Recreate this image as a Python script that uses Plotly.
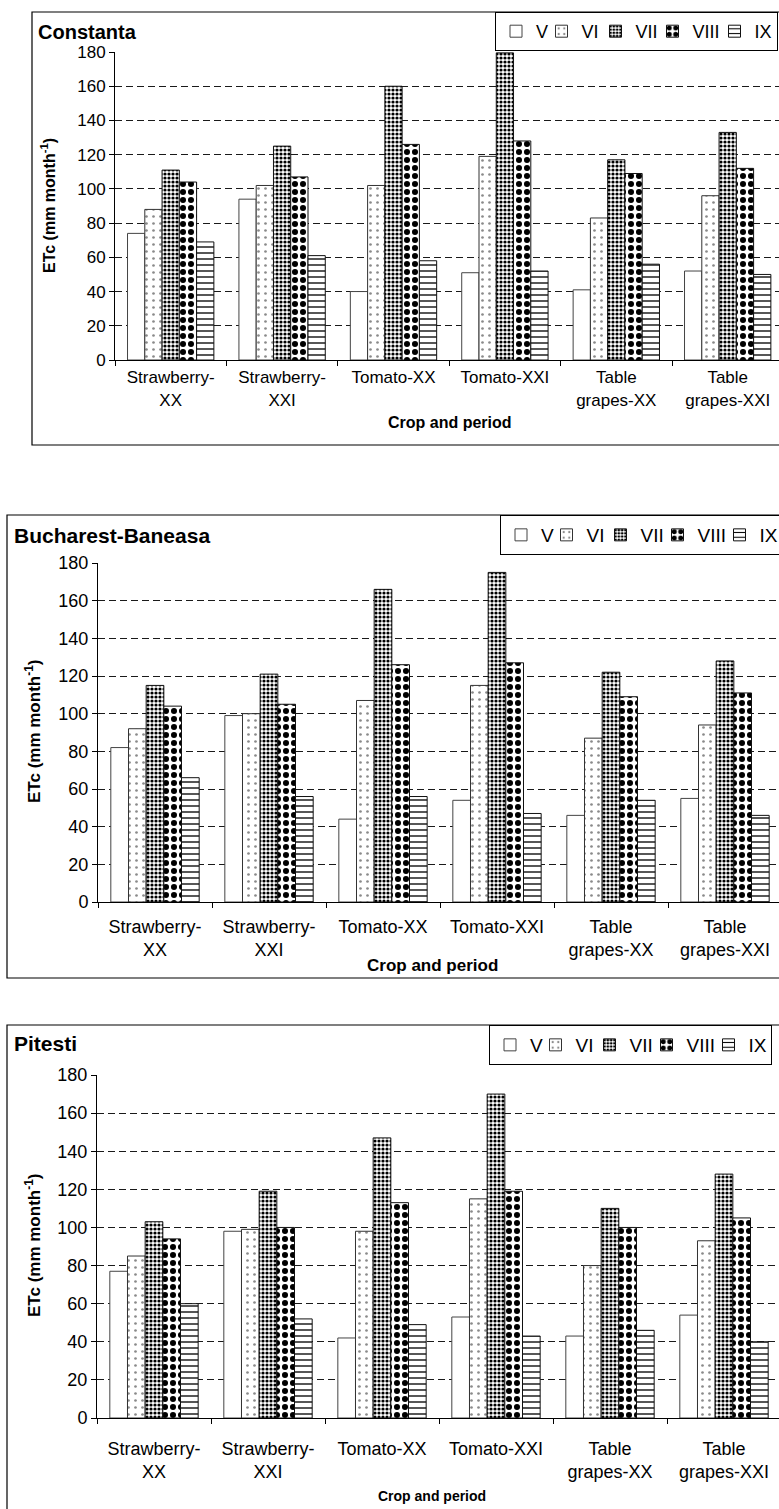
import plotly.graph_objects as go

W, H = 779, 1509
FONT = "Liberation Sans, Arial, sans-serif"

# ---------------- data ----------------
crops = ["Strawberry-XX", "Strawberry-XXI", "Tomato-XX", "Tomato-XXI",
         "Table grapes-XX", "Table grapes-XXI"]
crop_ticks = ["Strawberry-<br>XX", "Strawberry-<br>XXI", "Tomato-XX", "Tomato-XXI",
              "Table<br>grapes-XX", "Table<br>grapes-XXI"]
months = ["V", "VI", "VII", "VIII", "IX"]
stations = ["Constanta", "Bucharest-Baneasa", "Pitesti"]

constanta_V = [74, 94, 40, 51, 41, 52]
constanta_VI = [88, 102, 102, 119, 83, 96]
constanta_VII = [111, 125, 160, 179.5, 117, 133]
constanta_VIII = [104, 107, 126, 128, 109, 112]
constanta_IX = [69, 61, 58, 52, 56, 50]

bucharest_V = [82, 99, 44, 54, 46, 55]
bucharest_VI = [92, 100, 107, 115, 87, 94]
bucharest_VII = [115, 121, 166, 175, 122, 128]
bucharest_VIII = [104, 105, 126, 127, 109, 111]
bucharest_IX = [66, 56, 56, 47, 54, 46]

pitesti_V = [77, 98, 42, 53, 43, 54]
pitesti_VI = [85, 99, 98, 115, 80, 93]
pitesti_VII = [103, 119, 147, 170, 110, 128]
pitesti_VIII = [94, 100, 113, 119, 100, 105]
pitesti_IX = [60, 52, 49, 43, 46, 40]

station_data = [
    [constanta_V, constanta_VI, constanta_VII, constanta_VIII, constanta_IX],
    [bucharest_V, bucharest_VI, bucharest_VII, bucharest_VIII, bucharest_IX],
    [pitesti_V, pitesti_VI, pitesti_VII, pitesti_VIII, pitesti_IX],
]

y_ticks = [0, 20, 40, 60, 80, 100, 120, 140, 160, 180]

# ---------------- styles ----------------
month_style = {
    "V": dict(shape="", fg="black", size=8, sol=0.3, line="#444444", lw=0.5),
    "VI": dict(shape=".", fg="#8a8a8a", size=7, sol=0.12, line="#333333", lw=9),
    "VII": dict(shape=".", fg="black", size=4, sol=0.5, line="#111111", lw=12),
    "VIII": dict(shape=".", fg="black", size=8, sol=0.45, line="#111111", lw=17),
    "IX": dict(shape="-", fg="black", size=6, sol=0.22, line="#111111", lw=17),
}


def px_x(p):
    return p / W


def px_y(p):
    return 1 - p / H


panels = [
    dict(left=115, y0=360, y180=52, cw=111.4, box=(32, 12, 445),
         title_xy=(36, 32), ylab_xy=(48, 206), xlab_xy=(450, 422),
         legend_xy=(495, 12), tick=17, title=20, lab=16, xlab=16, leg=18, stand=2),
    dict(left=98, y0=902, y180=563, cw=114, box=(7, 515, 978),
         title_xy=(12, 535), ylab_xy=(33, 732), xlab_xy=(432, 966),
         legend_xy=(500, 515), tick=18, title=21, lab=17, xlab=17, leg=19, stand=8),
    dict(left=97, y0=1418, y180=1075, cw=114, box=(7, 1025, 1530),
         title_xy=(12, 1043), ylab_xy=(33, 1246), xlab_xy=(432, 1496),
         legend_xy=(489, 1025), tick=18, title=21, lab=17, xlab=14, leg=19, stand=14),
]

fig = go.Figure()
legend_names = ["legend", "legend2", "legend3"]

for i, (station, series) in enumerate(zip(stations, station_data)):
    sfx = "" if i == 0 else str(i + 1)
    for m, vals in zip(months, series):
        st = month_style[m]
        fig.add_trace(go.Bar(
            x=crops, y=vals, name=m,
            xaxis="x" + sfx, yaxis="y" + sfx,
            legend=legend_names[i], legendwidth=st["lw"],
            marker=dict(
                color="white",
                line=dict(color=st["line"], width=1),
                pattern=dict(shape=st["shape"], fgcolor=st["fg"], bgcolor="white",
                             size=st["size"], solidity=st["sol"], fillmode="replace"),
            ),
            hoverinfo="skip",
        ))

layout = dict(
    width=W, height=H,
    margin=dict(l=0, r=0, t=0, b=0, autoexpand=False),
    paper_bgcolor="white", plot_bgcolor="white",
    barmode="group", bargap=0.225, bargroupgap=0,
    font=dict(family=FONT, color="black", size=17),
    showlegend=True,
)

shapes = []
annotations = []
for i, (station, p) in enumerate(zip(stations, panels)):
    sfx = "" if i == 0 else str(i + 1)
    xr_end = -0.5 + (W - p["left"]) / p["cw"]
    layout["xaxis" + sfx] = dict(
        domain=[px_x(p["left"]), 1], anchor="y" + sfx,
        type="category", categoryorder="array", categoryarray=crops,
        tickmode="array", tickvals=crops, ticktext=crop_ticks,
        range=[-0.5, xr_end], tickangle=0, automargin=False,
        tickson="boundaries", ticks="outside", ticklen=5, tickcolor="black",
        showline=True, linecolor="black", linewidth=1,
        showgrid=False, zeroline=False, fixedrange=True,
        ticklabelstandoff=p["stand"],
        tickfont=dict(family=FONT, size=p["tick"], color="black"),
    )
    layout["yaxis" + sfx] = dict(
        domain=[px_y(p["y0"]), px_y(p["y180"])], anchor="x" + sfx,
        range=[0, 180], tickmode="array", tickvals=y_ticks,
        ticks="outside", ticklen=5, tickcolor="black", automargin=False,
        showline=True, linecolor="black", linewidth=1,
        showgrid=True, gridcolor="#1a1a1a", gridwidth=1, griddash="7px,4px",
        zeroline=False, fixedrange=True,
        tickfont=dict(family=FONT, size=p["tick"], color="black"),
    )
    lx, ly = p["legend_xy"]
    layout[legend_names[i]] = dict(
        x=px_x(lx), y=px_y(ly), xanchor="left", yanchor="top",
        orientation="h", bgcolor="white", bordercolor="black", borderwidth=1,
        font=dict(family=FONT, size=p["leg"], color="black"),
        itemwidth=30, itemclick=False, itemdoubleclick=False,
    )
    bx0, by0, by1 = p["box"]
    shapes.append(dict(type="rect", xref="paper", yref="paper",
                       x0=px_x(bx0), x1=1.02, y0=px_y(by1), y1=px_y(by0),
                       line=dict(color="black", width=1.2), fillcolor="rgba(0,0,0,0)",
                       layer="below"))
    tx, ty = p["title_xy"]
    annotations.append(dict(text=station, xref="paper", yref="paper",
                            x=px_x(tx), y=px_y(ty), xanchor="left", yanchor="middle",
                            showarrow=False,
                            font=dict(family=FONT, size=p["title"], weight="bold", color="black")))
    yx, yy = p["ylab_xy"]
    annotations.append(dict(text="ETc (mm month<sup>-1</sup>)", xref="paper", yref="paper",
                            x=px_x(yx), y=px_y(yy), xanchor="center", yanchor="middle",
                            textangle=-90, showarrow=False,
                            font=dict(family=FONT, size=p["lab"], weight="bold", color="black")))
    xx, xy = p["xlab_xy"]
    xfont = FONT if i < 2 else "Liberation Sans Narrow, Arial Narrow, " + FONT
    annotations.append(dict(text="Crop and period", xref="paper", yref="paper",
                            x=px_x(xx), y=px_y(xy), xanchor="center", yanchor="middle",
                            showarrow=False,
                            font=dict(family=xfont, size=p["xlab"], weight="bold", color="black")))

layout["shapes"] = shapes
layout["annotations"] = annotations
fig.update_layout(**layout)

# remove the default 8px page margin so the figure sits at the window's corner
fig.write_html("out.html",
               config={"displayModeBar": False, "staticPlot": True},
               post_script="document.body.style.margin='0';document.body.style.overflow='hidden';")
